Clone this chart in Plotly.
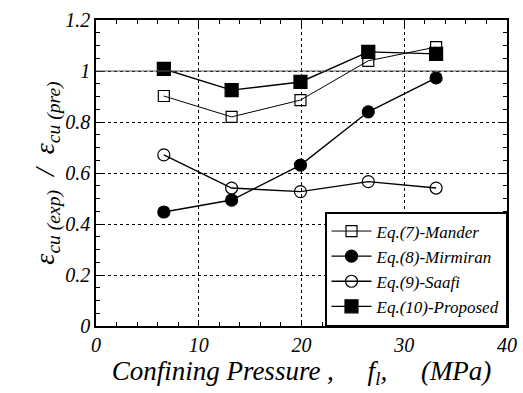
import plotly.graph_objects as go

pressure = [6.6, 13.2, 19.9, 26.5, 33.1]
mander = [0.902, 0.820, 0.886, 1.040, 1.094]
mirmiran = [0.447, 0.494, 0.631, 0.840, 0.973]
saafi = [0.671, 0.541, 0.527, 0.566, 0.541]
proposed = [1.008, 0.925, 0.957, 1.075, 1.067]

series = [
    ("Eq.(7)-Mander", mander, "square-open", 11, 1.0),
    ("Eq.(8)-Mirmiran", mirmiran, "circle", 12, 1.4),
    ("Eq.(9)-Saafi", saafi, "circle-open", 12, 1.4),
    ("Eq.(10)-Proposed", proposed, "square", 13, 1.4),
]

font_family = "Liberation Serif"

fig = go.Figure()
for name, vals, sym, size, lw in series:
    fig.add_trace(go.Scatter(
        x=pressure, y=vals, name=name, mode="lines+markers",
        line=dict(color="black", width=lw),
        marker=dict(symbol=sym, size=size, color="black",
                    line=dict(color="black", width=1.2)),
    ))

fig.add_hline(y=1, line=dict(color="#555555", width=1))

axis_common = dict(
    showline=True, linecolor="black", linewidth=1.5, mirror="allticks",
    ticks="inside", ticklen=6, tickcolor="black",
    showgrid=True, gridcolor="black", griddash="dot", gridwidth=1,
    zeroline=False, automargin=False,
    tickfont=dict(family=font_family, size=20, style="italic", color="black"),
)

fig.update_xaxes(
    range=[0, 40], dtick=10, tick0=0,
    minor=dict(dtick=2, ticks="inside", ticklen=4, tickcolor="black", showgrid=False),
    title=dict(text="Confining Pressure ,     f<sub>l</sub>,     (MPa)",
               font=dict(family=font_family, size=27, style="italic", color="black"),
               standoff=4),
    **axis_common,
)
fig.update_yaxes(
    range=[0, 1.2], dtick=0.2, tick0=0,
    minor=dict(dtick=0.05, ticks="inside", ticklen=4, tickcolor="black", showgrid=False),
    title=dict(text="ε<sub>cu (exp)</sub>  /  ε<sub>cu (pre)</sub>",
               font=dict(family=font_family, size=28, style="italic", color="black"),
               standoff=0),
    **axis_common,
)

fig.update_layout(
    width=523, height=393,
    margin=dict(l=96, r=16, t=20, b=67),
    paper_bgcolor="white", plot_bgcolor="white",
    font=dict(family=font_family, color="black"),
    showlegend=True,
    legend=dict(
        x=1, y=0, xanchor="right", yanchor="bottom",
        bordercolor="black", borderwidth=1.5, bgcolor="white",
        font=dict(family=font_family, size=17, style="italic", color="black"),
        tracegroupgap=0, itemwidth=40,
        entrywidth=165, entrywidthmode="pixels",
    ),
)

fig.write_html("out.html", config={"displayModeBar": False},
               post_script="document.body.style.margin='0';")
